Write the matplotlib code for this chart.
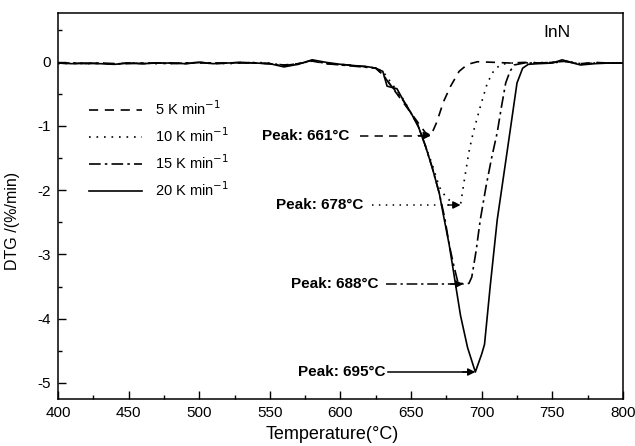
import matplotlib
matplotlib.use("Agg")
import matplotlib.pyplot as plt
import numpy as np

plt.rcParams['font.family'] = ['Liberation Sans', 'DejaVu Sans']

# ---- data ----
base_T = [400, 410, 420, 430, 440, 450, 460, 470, 480, 490, 500, 510, 520, 530, 540,
          550, 560, 570, 580, 590, 600, 610, 620]
base_y_5 = [-0.02, -0.03, -0.02, -0.03, -0.03, -0.02, -0.03, -0.02, -0.02, -0.03, -0.01, -0.03,
            -0.02, -0.01, -0.02, -0.03, -0.05, -0.03, 0.01, -0.03, -0.04, -0.06, -0.08]
base_y_10 = [-0.03, -0.02, -0.03, -0.02, -0.04, -0.02, -0.02, -0.03, -0.02, -0.02, -0.02, -0.02,
             -0.03, -0.02, -0.01, -0.02, -0.06, -0.04, 0.02, -0.02, -0.05, -0.06, -0.08]
base_y_15 = [-0.02, -0.02, -0.03, -0.02, -0.03, -0.03, -0.02, -0.02, -0.03, -0.02, -0.01, -0.02,
             -0.02, -0.02, -0.02, -0.03, -0.06, -0.03, 0.02, -0.03, -0.05, -0.07, -0.09]
base_y_20 = [-0.02, -0.03, -0.02, -0.03, -0.04, -0.02, -0.03, -0.02, -0.02, -0.03, -0.01, -0.03,
             -0.02, -0.01, -0.02, -0.03, -0.08, -0.04, 0.03, -0.01, -0.04, -0.06, -0.08]

T5 = [625, 630, 635, 640, 645, 650, 655, 660, 664, 668, 673, 678, 684, 690, 697,
      710, 720, 730, 740, 750, 760, 770, 780, 790, 800]
y5 = [-0.10, -0.20, -0.35, -0.50, -0.65, -0.80, -0.95, -1.10, -1.15, -0.95, -0.62, -0.38,
      -0.15, -0.04, 0.00, -0.01, -0.02, -0.01, -0.02, -0.01, 0.00, -0.03, -0.01, -0.02, -0.02]

T10 = [625, 630, 635, 640, 645, 650, 655, 660, 665, 670, 675, 680, 685, 688, 691,
       694, 699, 704, 709, 714, 720, 730, 740, 750, 760, 770, 780, 790, 800]
y10 = [-0.10, -0.15, -0.30, -0.45, -0.60, -0.80, -1.00, -1.30, -1.60, -1.95, -2.12, -2.20,
       -2.23, -1.80, -1.40, -1.10, -0.70, -0.33, -0.12, -0.04, -0.02, -0.02, -0.01, -0.02,
       0.01, -0.03, -0.02, -0.02, -0.02]

T15 = [625, 630, 635, 640, 645, 650, 655, 660, 665, 670, 674, 677, 680, 683, 687, 691,
       693, 696, 699, 703, 707, 711, 714, 717, 720, 723, 730, 740, 750, 760, 770, 780, 790, 800]
y15 = [-0.10, -0.20, -0.35, -0.48, -0.62, -0.80, -1.00, -1.30, -1.65, -2.05, -2.45, -2.85,
       -3.15, -3.42, -3.46, -3.45, -3.35, -2.95, -2.46, -1.95, -1.50, -1.10, -0.70, -0.33,
       -0.15, -0.05, -0.02, -0.02, -0.01, 0.01, -0.04, -0.02, -0.02, -0.02]

T20 = [625, 630, 633, 640, 645, 650, 655, 660, 665, 670, 673, 677, 681, 685, 690, 695.5,
       700, 702, 706, 711, 718, 725, 729, 733, 740, 750, 757, 763, 770, 780, 790, 800]
y20 = [-0.10, -0.15, -0.38, -0.42, -0.62, -0.80, -1.00, -1.30, -1.65, -2.05, -2.40, -2.85,
       -3.40, -3.95, -4.45, -4.83, -4.55, -4.40, -3.50, -2.46, -1.40, -0.33, -0.10, -0.04,
       -0.03, -0.02, 0.03, -0.01, -0.05, -0.03, -0.02, -0.02]

series_labels = ['5 K min$^{-1}$', '10 K min$^{-1}$', '15 K min$^{-1}$', '20 K min$^{-1}$']
peak_labels = ['Peak: 661°C', 'Peak: 678°C', 'Peak: 688°C', 'Peak: 695°C']
label_T_end = [606.5, 616.5, 627.0, 632.0]
line_T_start = [614.0, 622.5, 632.5, 634.0]

x_ticks = [400, 450, 500, 550, 600, 650, 700, 750, 800]
y_ticks = [-5, -4, -3, -2, -1, 0]

# ---- figure ----
fig = plt.figure(figsize=(6.35, 4.46), dpi=100)
ax = fig.add_axes([0.0913, 0.1054, 0.8897, 0.8656])

styles = [(0, (5.5, 4)), (0, (1, 3.5)), (0, (7, 2.5, 1.5, 2.5)), '-']
data = [
    (base_T + T5, base_y_5 + y5),
    (base_T + T10, base_y_10 + y10),
    (base_T + T15, base_y_15 + y15),
    (base_T + T20, base_y_20 + y20),
]

for (tx, ty), ls, lab in zip(data, styles, series_labels):
    ax.plot(tx, ty, color='black', linestyle=ls, linewidth=1.2, label=lab)

# peak annotations
for (tx, ty), ls, txt, tend, tstart in zip(data, styles, peak_labels, label_T_end, line_T_start):
    i = int(np.argmin(ty))
    px, py = tx[i], ty[i]
    ax.text(tend, py, txt, ha='right', va='center', fontsize=11, fontweight='bold')
    ax.plot([tstart, px - 6], [py, py], color='black', linestyle=ls, linewidth=1.1)
    ax.annotate('', xy=(px, py), xytext=(px - 9, py),
                arrowprops=dict(arrowstyle='-|>', color='black', lw=1.0,
                                mutation_scale=11, shrinkA=0, shrinkB=0))

ax.text(753, 0.45, 'InN', fontsize=12.5, ha='center', va='center')

ax.set_xlim(400, 800)
ax.set_ylim(-5.25, 0.76)
ax.set_xticks(x_ticks)
ax.set_xticklabels([str(v) for v in x_ticks])
ax.set_yticks(y_ticks)
ax.set_yticklabels([str(v).replace('\u2212', '-') for v in y_ticks])
ax.set_xticks(np.arange(425, 800, 50), minor=True)
ax.set_yticks(np.arange(-4.5, 0.76, 1.0), minor=True)
ax.tick_params(which='major', direction='in', length=6, width=1, labelsize=11, pad=5)
ax.tick_params(which='minor', direction='in', length=3, width=1)
for s in ax.spines.values():
    s.set_linewidth(1.1)

ax.set_xlabel('Temperature(°C)', fontsize=13)
ax.xaxis.set_label_coords(0.485, -0.07)
ax.set_ylabel('DTG /(%/min)', fontsize=11.5)
ax.yaxis.set_label_coords(-0.068, 0.46)

leg = ax.legend(loc='upper left', bbox_to_anchor=(0.055, 0.775), frameon=False,
                fontsize=10.5, handlelength=3.6, handletextpad=0.9, labelspacing=0.55,
                borderpad=0, borderaxespad=0)

fig.savefig('out.png', dpi=100)
